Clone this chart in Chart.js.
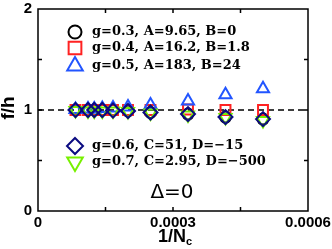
<!DOCTYPE html>
<html>
<head>
<meta charset="utf-8">
<script src="https://cdn.jsdelivr.net/npm/chart.js@4/dist/chart.umd.min.js"></script>
<style>
  body { margin: 0; background: #fff; }
  #wrap { width: 332px; height: 249px; }
</style>
</head>
<body>
<div id="wrap"><canvas id="chart"></canvas></div>
<script>
// 1/Nc values (Nc = 12000 ... 2000)
const invNc = [1 / 12000, 1 / 9000, 1 / 8000, 1 / 7000, 1 / 6000, 1 / 5000, 1 / 4000, 1 / 3000, 1 / 2400, 1 / 2000];

// f/h for each g
const g03 = [1.0, 1.0, 1.0, 1.0, 1.0, 0.99, 0.975, 0.96, 0.93, 0.91];
const g04 = [1.0, 1.0, 1.0, 1.0, 1.0, 1.0, 1.0, 1.005, 1.0, 1.0];
const g05 = [1.005, 1.01, 1.01, 1.015, 1.02, 1.03, 1.05, 1.09, 1.15, 1.21];
const g06 = [1.0, 1.0, 1.0, 1.0, 0.995, 0.99, 0.975, 0.96, 0.93, 0.91];
const g07 = [0.995, 0.99, 0.99, 0.99, 0.99, 0.985, 0.97, 0.95, 0.925, 0.895];

const xTickLabels = ['0', '', '0.0003', '', '0.0006'];
const yTickLabels = ['0', '', '1', '', '2'];

const legendTop = ['g=0.3, A=9.65, B=0', 'g=0.4, A=16.2, B=1.8', 'g=0.5, A=183, B=24'];
const legendBottom = ['g=0.6, C=51, D=\u221215', 'g=0.7, C=2.95, D=\u2212500'];

const colors = {
    black: '#000000',
    red: '#ff2222',
    blue: '#2255ff',
    navy: '#0a0a80',
    green: '#77f000'
};

function points(ys) {
    return invNc.map((x, i) => ({ x: x, y: ys[i] }));
}

function marker(ctx, style, x, y, r, color) {
    ctx.save();
    ctx.strokeStyle = color;
    ctx.lineWidth = 2;
    ctx.beginPath();
    if (style === 'circle') {
        ctx.arc(x, y, r, 0, Math.PI * 2);
    } else if (style === 'rect') {
        const s = r * Math.SQRT1_2;
        ctx.rect(x - s, y - s, 2 * s, 2 * s);
    } else if (style === 'rectRot') {
        ctx.moveTo(x, y - r);
        ctx.lineTo(x + r, y);
        ctx.lineTo(x, y + r);
        ctx.lineTo(x - r, y);
        ctx.closePath();
    } else if (style === 'triangle') {
        ctx.moveTo(x, y - r);
        ctx.lineTo(x + r * 0.866, y + r / 2);
        ctx.lineTo(x - r * 0.866, y + r / 2);
        ctx.closePath();
    } else if (style === 'triangleDown') {
        ctx.moveTo(x, y + r);
        ctx.lineTo(x + r * 0.866, y - r / 2);
        ctx.lineTo(x - r * 0.866, y - r / 2);
        ctx.closePath();
    }
    ctx.stroke();
    ctx.restore();
}

const framePlugin = {
    id: 'frame',
    afterDraw(chart) {
        const ctx = chart.ctx;
        const a = chart.chartArea;
        const xs = chart.scales.x;
        const ys = chart.scales.y;

        ctx.save();
        ctx.strokeStyle = '#000';
        ctx.lineWidth = 1.5;
        ctx.strokeRect(a.left, a.top, a.right - a.left, a.bottom - a.top);

        // inward ticks
        ctx.beginPath();
        [0.5, 1, 1.5].forEach(v => {
            const py = ys.getPixelForValue(v);
            ctx.moveTo(a.left, py); ctx.lineTo(a.left + 4, py);
            ctx.moveTo(a.right, py); ctx.lineTo(a.right - 4, py);
        });
        [0.00015, 0.0003, 0.00045].forEach(v => {
            const px = xs.getPixelForValue(v);
            ctx.moveTo(px, a.bottom); ctx.lineTo(px, a.bottom - 4);
            ctx.moveTo(px, a.top); ctx.lineTo(px, a.top + 4);
        });
        ctx.stroke();

        // legend
        ctx.fillStyle = '#000';
        ctx.textBaseline = 'middle';
        ctx.textAlign = 'left';
        ctx.font = 'bold 13px "DejaVu Serif"';
        const topStyles = [['circle', colors.black, 6.5], ['rect', colors.red, 9], ['triangle', colors.blue, 9]];
        const topRows = [32, 48, 66];
        legendTop.forEach((t, i) => {
            marker(ctx, topStyles[i][0], 75, topRows[i], topStyles[i][2], topStyles[i][1]);
            ctx.fillText(t, 92, topRows[i]);
        });
        const botStyles = [['rectRot', colors.navy, 8], ['triangleDown', colors.green, 9]];
        const botRows = [146, 162];
        legendBottom.forEach((t, i) => {
            marker(ctx, botStyles[i][0], 75, botRows[i], botStyles[i][2], botStyles[i][1]);
            ctx.fillText(t, 92, botRows[i]);
        });

        // delta label
        ctx.font = '20px "DejaVu Sans"';
        ctx.textAlign = 'center';
        ctx.fillText('\u0394=0', 172, 193);

        // axis titles
        ctx.font = 'bold 18px "Liberation Sans"';
        ctx.textAlign = 'right';
        ctx.fillText('1/N', 186, 237);
        ctx.font = 'bold 11px "Liberation Sans"';
        ctx.textAlign = 'left';
        ctx.fillText('c', 186, 242);

        ctx.translate(9, 108);
        ctx.rotate(-Math.PI / 2);
        ctx.font = 'bold 19px "Liberation Sans"';
        ctx.textAlign = 'center';
        ctx.fillText('f/h', 0, 0);
        ctx.restore();
    }
};

new Chart(document.getElementById('chart').getContext('2d'), {
    type: 'scatter',
    data: {
        datasets: [
            {
                type: 'line',
                data: [{ x: 0, y: 1 }, { x: 0.0006, y: 1 }],
                borderColor: '#000',
                borderWidth: 1.5,
                borderDash: [6, 4],
                pointRadius: 0,
                order: 10
            },
            { label: 'g=0.3', data: points(g03), pointStyle: 'circle', pointRadius: 5.5, borderColor: colors.black, backgroundColor: 'transparent', pointBorderWidth: 2, order: 9 },
            { label: 'g=0.4', data: points(g04), pointStyle: 'rect', pointRadius: 7, borderColor: colors.red, backgroundColor: 'transparent', pointBorderWidth: 2, order: 8 },
            { label: 'g=0.5', data: points(g05), pointStyle: 'triangle', pointRadius: 7, borderColor: colors.blue, backgroundColor: 'transparent', pointBorderWidth: 2, order: 7 },
            { label: 'g=0.7', data: points(g07), pointStyle: 'triangle', rotation: 180, pointRadius: 7, borderColor: colors.green, backgroundColor: 'transparent', pointBorderWidth: 2, order: 6 },
            { label: 'g=0.6', data: points(g06), pointStyle: 'rectRot', pointRadius: 7, borderColor: colors.navy, backgroundColor: 'transparent', pointBorderWidth: 2, order: 5 }
        ]
    },
    options: {
        responsive: true,
        maintainAspectRatio: false,
        animation: false,
        layout: { padding: { left: 0, right: 24, top: 8, bottom: 0 } },
        plugins: { legend: { display: false }, tooltip: { enabled: false } },
        scales: {
            x: {
                type: 'linear',
                min: 0,
                max: 0.0006,
                grid: { display: false, drawTicks: false },
                border: { display: false },
                ticks: {
                    stepSize: 0.00015,
                    autoSkip: false,
                    maxRotation: 0,
                    padding: 3,
                    color: '#000',
                    font: { family: 'Liberation Sans', size: 15, weight: 'bold' },
                    callback: (v, i) => xTickLabels[i]
                },
                afterFit: s => { s.height = 38; s.paddingLeft = 0; s.paddingRight = 0; }
            },
            y: {
                min: 0,
                max: 2,
                grid: { display: false, drawTicks: false },
                border: { display: false },
                ticks: {
                    stepSize: 0.5,
                    padding: 6,
                    color: '#000',
                    font: { family: 'Liberation Sans', size: 15, weight: 'bold', lineHeight: 1 },
                    callback: (v, i) => yTickLabels[i]
                },
                afterFit: s => { s.width = 38; s.paddingTop = 0; s.paddingBottom = 0; }
            }
        }
    },
    plugins: [framePlugin]
});
</script>
</body>
</html>
